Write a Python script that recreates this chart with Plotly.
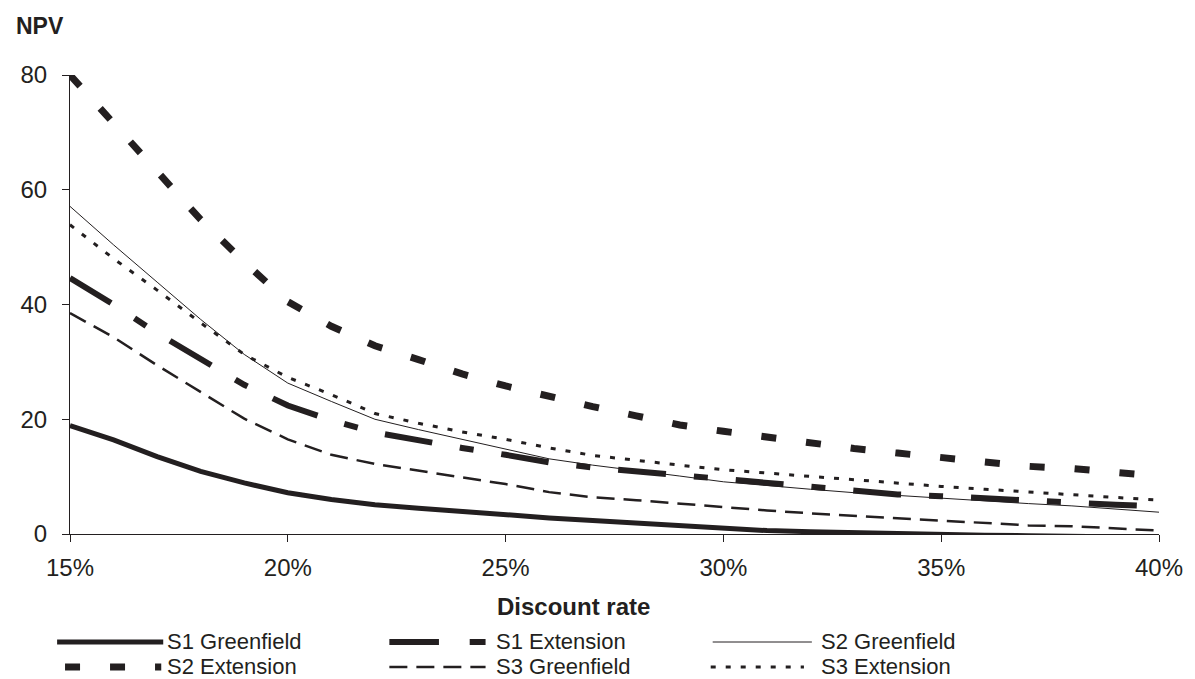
import plotly.graph_objects as go

# ---------------- data ----------------
rates = [15, 16, 17, 18, 19, 20, 21, 22, 23, 24, 25, 26, 27, 28, 29, 30,
         31, 32, 33, 34, 35, 36, 37, 38, 39, 40]

s1_greenfield = [18.9, 16.4, 13.5, 10.9, 8.9, 7.2, 6.0, 5.1, 4.5, 3.9, 3.3, 2.8, 2.35,
                 1.9, 1.4, 1.0, 0.6, 0.4, 0.2, 0.0, -0.1, -0.2, -0.3, -0.4, -0.5, -0.6]
s1_extension = [44.6, 40.0, 35.0, 30.5, 26.0, 22.4, 19.8, 17.7, 16.3, 15.0, 13.8, 12.5, 11.6,
                10.9, 10.3, 9.6, 8.8, 8.2, 7.4, 6.9, 6.6, 6.2, 5.7, 5.35, 5.1, 4.8]
s2_greenfield = [57.1, 50.4, 43.9, 37.4, 31.3, 26.3, 23.1, 20.0, 18.2, 16.5, 14.8, 13.1, 12.0,
                 11.1, 10.1, 9.1, 8.4, 7.8, 7.2, 6.7, 6.2, 5.7, 5.3, 4.9, 4.3, 3.8]
s2_extension = [80.0, 71.5, 62.9, 54.8, 47.4, 40.5, 36.2, 32.8, 30.4, 27.9, 25.8, 23.9, 22.2,
                20.6, 19.0, 17.9, 16.8, 15.7, 14.9, 14.1, 13.3, 12.6, 11.8, 11.4, 10.8, 10.1]
s3_greenfield = [38.5, 34.3, 29.4, 24.8, 20.1, 16.5, 13.8, 12.2, 11.0, 9.9, 8.7, 7.3, 6.4,
                 5.9, 5.3, 4.6, 4.1, 3.6, 3.2, 2.8, 2.4, 1.9, 1.5, 1.35, 1.0, 0.6]
s3_extension = [53.9, 48.0, 42.5, 36.8, 31.3, 27.3, 24.3, 21.0, 19.3, 17.8, 16.5, 15.0, 13.7,
                12.8, 12.0, 11.2, 10.6, 10.0, 9.5, 8.9, 8.3, 7.8, 7.3, 6.8, 6.3, 5.9]

series_names = ["S1 Greenfield", "S1 Extension", "S2 Greenfield",
                "S2 Extension", "S3 Greenfield", "S3 Extension"]
series_values = [s1_greenfield, s1_extension, s2_greenfield,
                 s2_extension, s3_greenfield, s3_extension]

x_ticks = [15, 20, 25, 30, 35, 40]
y_ticks = [0, 20, 40, 60, 80]
y_title = "NPV"
x_title = "Discount rate"

# ---------------- styles ----------------
INK = "#231f20"
FONT = "Liberation Sans, Arial, sans-serif"
styles = [
    dict(width=5, dash="solid"),
    dict(width=6, dash="48px,28px,14px,28px"),
    dict(width=1, dash="solid"),
    dict(width=7, dash="15px,30px"),
    dict(width=2.5, dash="18px,9px"),
    dict(width=3, dash="5px,10px"),
]

# The page body has an 8px default margin: the figure is offset by it.
OFF = 8
W, H = 1195 - OFF, 679 - OFF
ML, MR, MT, MB = 60, 29, 67, 145
PW, PH = W - ML - MR, H - MT - MB


def px_x(px):
    """page pixel x -> paper coordinate"""
    return (px - OFF - ML) / PW


def px_y(py):
    """page pixel y -> paper coordinate"""
    return (H - MB - (py - OFF)) / PH


fig = go.Figure()
for name, vals, st in zip(series_names, series_values, styles):
    fig.add_trace(go.Scatter(
        x=rates, y=vals, mode="lines", name=name, showlegend=False,
        line=dict(color=INK, width=st["width"], dash=st["dash"]),
        hoverinfo="x+y+name",
    ))

# ---------------- custom legend (long line samples like the original) ----------------
shapes = []
annotations = []
row_y = [641, 666]
legend_items = [
    (0, 55, 162, 165), (0, 390, 487, 497), (0, 716, 816, 824),
    (1, 63, 160, 165), (1, 390, 487, 497), (1, 714, 808, 824),
]
for (row, x0, x1, tx), name, st in zip(legend_items, series_names, styles):
    yy = px_y(row_y[row] + 1)
    if name == "S1 Extension":
        for a, b in [(x0, 440), (471, x1)]:
            shapes.append(dict(type="line", xref="paper", yref="paper",
                               x0=px_x(a), x1=px_x(b), y0=yy, y1=yy,
                               line=dict(color=INK, width=st["width"])))
    else:
        shapes.append(dict(type="line", xref="paper", yref="paper",
                           x0=px_x(x0), x1=px_x(x1), y0=yy, y1=yy,
                           line=dict(color=INK, width=st["width"], dash=st["dash"])))
    annotations.append(dict(xref="paper", yref="paper", x=px_x(tx), y=px_y(row_y[row]),
                            xanchor="left", yanchor="middle", showarrow=False,
                            height=22, borderpad=0,
                            text=name, font=dict(family=FONT, size=22, color=INK)))

annotations.append(dict(xref="paper", yref="paper", x=px_x(12), y=px_y(26),
                        xanchor="left", yanchor="middle", showarrow=False,
                        text="<b>" + y_title + "</b>",
                        font=dict(family=FONT, size=23, color=INK)))
annotations.append(dict(xref="paper", yref="paper", x=px_x(576), y=px_y(606),
                        xanchor="center", yanchor="middle", showarrow=False,
                        text="<b>" + x_title + "</b>",
                        font=dict(family=FONT, size=24, color=INK)))

fig.update_layout(
    width=W, height=H,
    margin=dict(l=ML, r=MR, t=MT, b=MB),
    paper_bgcolor="white", plot_bgcolor="white",
    font=dict(family=FONT, size=24, color=INK),
    shapes=shapes, annotations=annotations,
    showlegend=False,
    xaxis=dict(range=[15, 40], tickvals=x_ticks, ticktext=[f"{v}%" for v in x_ticks],
               showgrid=False, zeroline=False, showline=True, linecolor=INK, linewidth=1,
               ticks="outside", ticklen=7, tickcolor=INK, tickwidth=1,
               ticklabelstandoff=5, tickfont=dict(family=FONT, size=24, color=INK)),
    yaxis=dict(range=[0, 80], tickvals=y_ticks,
               showgrid=False, zeroline=False, showline=True, linecolor=INK, linewidth=1,
               ticks="outside", ticklen=7, tickcolor=INK, tickwidth=1,
               ticklabelstandoff=10, tickfont=dict(family=FONT, size=24, color=INK)),
)

fig.write_html("out.html")
